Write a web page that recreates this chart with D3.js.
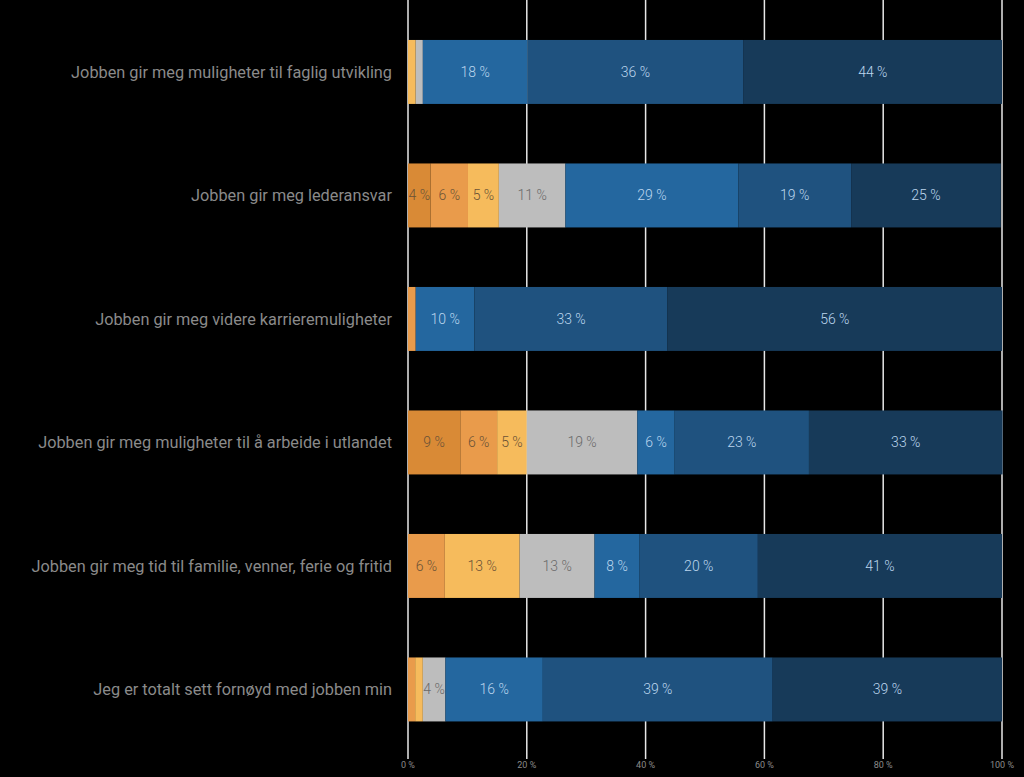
<!DOCTYPE html>
<html><head><meta charset="utf-8">
<script src="https://cdn.jsdelivr.net/npm/d3@7"></script>
<style>html,body{margin:0;padding:0;background:#000;}svg{display:block;}</style>
</head><body><svg id="c" width="1024" height="777"></svg>
<script>
const categories = [
  "Jobben gir meg muligheter til faglig utvikling",
  "Jobben gir meg lederansvar",
  "Jobben gir meg videre karrieremuligheter",
  "Jobben gir meg muligheter til å arbeide i utlandet",
  "Jobben gir meg tid til familie, venner, ferie og fritid",
  "Jeg er totalt sett fornøyd med jobben min"
];
const seriesKeys = ["s1","s2","s3","s4","s5","s6","s7"];
const s1 = [0, 3.8, 0, 8.8, 0, 0];
const s2 = [0, 6.3, 1.3, 6.2, 6.2, 1.2];
const s3 = [1.3, 5.2, 0, 5.0, 12.6, 1.3];
const s4 = [1.2, 11.2, 0, 18.6, 12.6, 3.8];
const s5 = [17.6, 29.1, 9.9, 6.3, 7.6, 16.4];
const s6 = [36.4, 19.0, 32.5, 22.6, 19.9, 38.7];
const s7 = [43.5, 25.2, 56.3, 32.6, 41.1, 38.6];
const tickValues = [0, 20, 40, 60, 80, 100];
const tickLabels = ["0 %", "20 %", "40 %", "60 %", "80 %", "100 %"];
const colors = ["#d98a36", "#e99b4b", "#f6bb5c", "#bdbdbd", "#24679f", "#1f527f", "#173a59"];
const labelColors = ["#6a5236", "#6a5236", "#6a5236", "#6a6a6a", "#bcd6ee", "#bcd6ee", "#bcd6ee"];

const seriesArrays = [s1, s2, s3, s4, s5, s6, s7];
const rows = categories.map((c, i) => {
  const o = {cat: c};
  seriesKeys.forEach((k, j) => o[k] = seriesArrays[j][i]);
  return o;
});

const svg = d3.select("#c");
const x = d3.scaleLinear().domain([0, 100]).range([408, 1002]);
const y = d3.scaleBand().domain(categories).range([10.2, 751.2]).paddingInner(0.482).paddingOuter(0.241);

// gridlines
svg.append("g").selectAll("line").data(tickValues).join("line")
  .attr("x1", d => x(d)).attr("x2", d => x(d))
  .attr("y1", 0).attr("y2", 759)
  .attr("stroke", "#e8e8e8").attr("stroke-width", 1.5);

// tick labels
svg.append("g").selectAll("text").data(tickValues).join("text")
  .attr("x", d => x(d)).attr("y", 768)
  .attr("text-anchor", "middle")
  .attr("font-family", "Roboto, sans-serif").attr("font-size", 9)
  .attr("fill", "#8a8a8a")
  .text((d, i) => tickLabels[i]);

const stack = d3.stack().keys(seriesKeys)(rows);

const g = svg.append("g");
stack.forEach((layer, j) => {
  const key = seriesKeys[j];
  const lg = g.append("g");
  lg.selectAll("rect").data(layer).join("rect")
    .attr("x", d => x(d[0]))
    .attr("y", d => y(d.data.cat))
    .attr("width", d => x(d[1]) - x(d[0]))
    .attr("height", y.bandwidth())
    .attr("fill", colors[j]);
  lg.selectAll("text").data(layer.filter(d => d.data[key] >= 3)).join("text")
    .attr("x", d => (x(d[0]) + x(d[1])) / 2)
    .attr("y", d => y(d.data.cat) + y.bandwidth() / 2)
    .attr("dy", "0.36em")
    .attr("text-anchor", "middle")
    .attr("font-family", "Roboto, sans-serif").attr("font-size", 14).attr("font-weight", 300)
    .attr("fill", labelColors[j])
    .text(d => Math.round(d.data[key]) + " %");
});

// category labels
svg.append("g").selectAll("text").data(categories).join("text")
  .attr("x", 392)
  .attr("y", d => y(d) + y.bandwidth() / 2)
  .attr("dy", "0.36em")
  .attr("text-anchor", "end")
  .attr("font-family", "Roboto, sans-serif").attr("font-size", 16.3)
  .attr("fill", "#8a8a8a")
  .text(d => d);
</script>
</body></html>
